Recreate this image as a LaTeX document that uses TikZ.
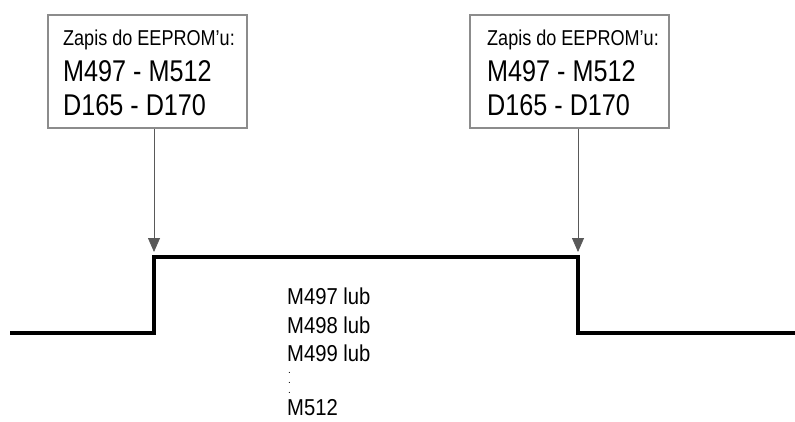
\documentclass[tikz,border=0pt]{standalone}
\usepackage{fontspec}
\setmainfont{Liberation Sans}
\usetikzlibrary{arrows.meta,positioning}

\begin{document}
\begin{tikzpicture}[x=1pt,y=-1pt]
\tikzset{
  infobox/.style={rectangle,draw=black!45,line width=1.4pt,minimum width=199pt,minimum height=113pt,inner sep=0pt},
  smalltext/.style={anchor=base west,inner sep=0pt,xscale=0.84,font=\fontsize{21.5}{26}\selectfont},
  bigtext/.style={anchor=base west,inner sep=0pt,xscale=0.84,font=\fontsize{30}{36}\selectfont},
  sigtext/.style={anchor=base west,inner sep=0pt,xscale=0.88,font=\fontsize{23}{28}\selectfont},
  dottext/.style={anchor=base west,inner sep=0pt,font=\fontsize{10}{10}\selectfont},
  signal/.style={draw=black,line width=3.6pt,line join=miter},
  marker/.style={draw=black!65,line width=0.8pt,-{Triangle[length=14pt,width=12pt]}}
}
\useasboundingbox (0,0) rectangle (795,421);
% boxes
\node[infobox] (box_l) at (147.5,71.5) {};
\node[infobox] (box_r) at (569.5,71.5) {};
\node[smalltext] (zl_1) at (63,45) {Zapis do EEPROM'u:};
\node[bigtext] (zl_2) at (63,81) {M497 - M512};
\node[bigtext] (zl_3) at (63,115) {D165 - D170};
\node[smalltext] (zr_1) at (487,45) {Zapis do EEPROM'u:};
\node[bigtext] (zr_2) at (487,81) {M497 - M512};
\node[bigtext] (zr_3) at (487,115) {D165 - D170};
% signal
\coordinate (s_0) at (10,333);
\coordinate (s_1) at (154,333);
\coordinate (s_2) at (154,257);
\coordinate (s_3) at (578,257);
\coordinate (s_4) at (578,333);
\coordinate (s_5) at (795,333);
\draw[signal] (s_0) -- (s_1) -- (s_2) -- (s_3) -- (s_4) -- (s_5);
\coordinate (tip_l) at (154,252);
\coordinate (tip_r) at (578,252);
\draw[marker] (box_l.south -| tip_l) -- (tip_l);
\draw[marker] (box_r.south -| tip_r) -- (tip_r);
% flags
\node[sigtext] (m_1) at (287,304) {M497 lub};
\node[sigtext] (m_2) at (287,333) {M498 lub};
\node[sigtext] (m_3) at (287,361) {M499 lub};
\node[dottext] (d_1) at (288,373) {.};
\node[dottext] (d_2) at (288,383) {.};
\node[dottext] (d_3) at (288,393) {.};
\node[sigtext] (m_4) at (287,415) {M512};
\end{tikzpicture}
\end{document}
